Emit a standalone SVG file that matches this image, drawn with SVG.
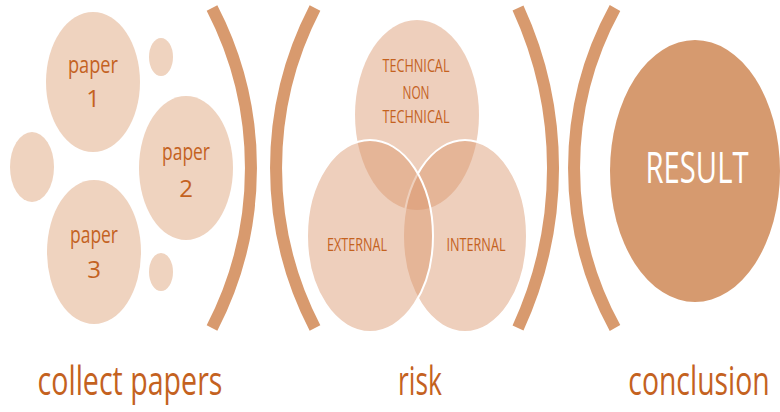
<svg xmlns="http://www.w3.org/2000/svg" width="780" height="412" viewBox="0 0 780 412">
<style>
.pc{fill:#EFD3BF}
.vn{fill:#D9956A;fill-opacity:0.45}
.vs{stroke:#FFFFFF;stroke-width:2}
.br{fill:none;stroke:#D89A6E;stroke-width:12;stroke-linecap:butt}
.t{font-family:"Open Sans","Liberation Sans",sans-serif;fill:#C4621F;text-anchor:middle}
.lbl{font-size:40px}
.pl{font-size:24px}
.vt{font-size:18px}
</style>
<rect width="780" height="412" fill="#FFFFFF"/>
<g id="connectors">
<path class="br" d="M212,8 A348,348 0 0 1 212,328"/>
<path class="br" d="M315,8 A348,348 0 0 0 315,328"/>
<path class="br" d="M518,8 A383,383 0 0 1 518,328"/>
<path class="br" d="M615,8 A333,333 0 0 0 615,328"/>
</g>
<g id="small-top"><ellipse class="pc" cx="161" cy="57" rx="12" ry="19"/></g>
<g id="small-left"><ellipse class="pc" cx="32" cy="167" rx="22" ry="35"/></g>
<g id="small-bottom"><ellipse class="pc" cx="161" cy="272" rx="12" ry="19"/></g>
<g id="paper1">
<ellipse class="pc" cx="93" cy="82" rx="47" ry="70"/>
<text class="t pl" x="93" y="73" textLength="50" lengthAdjust="spacingAndGlyphs">paper</text>
<text class="t pl" x="93" y="107">1</text>
</g>
<g id="paper2">
<ellipse class="pc" cx="186" cy="168" rx="47" ry="72"/>
<text class="t pl" x="186" y="160" textLength="48" lengthAdjust="spacingAndGlyphs">paper</text>
<text class="t pl" x="186" y="197">2</text>
</g>
<g id="paper3">
<ellipse class="pc" cx="94" cy="252" rx="47" ry="72"/>
<text class="t pl" x="94" y="243" textLength="48" lengthAdjust="spacingAndGlyphs">paper</text>
<text class="t pl" x="94" y="278">3</text>
</g>
<g id="technical">
<ellipse class="vn" cx="417" cy="115" rx="62" ry="95"/>
<text class="t vt" x="416" y="72" textLength="67" lengthAdjust="spacingAndGlyphs">TECHNICAL</text>
<text class="t vt" x="416" y="99" textLength="27" lengthAdjust="spacingAndGlyphs">NON</text>
<text class="t vt" x="416" y="123" textLength="67" lengthAdjust="spacingAndGlyphs">TECHNICAL</text>
</g>
<g id="internal">
<ellipse class="vn vs" cx="465" cy="236" rx="62" ry="96"/>
<text class="t vt" x="476" y="251" textLength="59" lengthAdjust="spacingAndGlyphs">INTERNAL</text>
</g>
<g id="external">
<ellipse class="vn vs" cx="370" cy="236" rx="63" ry="96"/>
<text class="t vt" x="357" y="251" textLength="60" lengthAdjust="spacingAndGlyphs">EXTERNAL</text>
</g>
<g id="result">
<ellipse cx="695" cy="171" rx="85" ry="131" fill="#D69A6F"/>
<text class="t" transform="translate(697,183) scale(0.68,1)" x="0" y="0" font-size="43" style="fill:#FFFFFF">RESULT</text>
</g>
<g id="labels">
<text class="t lbl" x="130" y="395" textLength="185" lengthAdjust="spacingAndGlyphs">collect papers</text>
<text class="t lbl" x="420" y="395" textLength="44" lengthAdjust="spacingAndGlyphs">risk</text>
<text class="t lbl" transform="translate(699,395) scale(0.71,1)" x="0" y="0">conclusion</text>
</g>
</svg>
